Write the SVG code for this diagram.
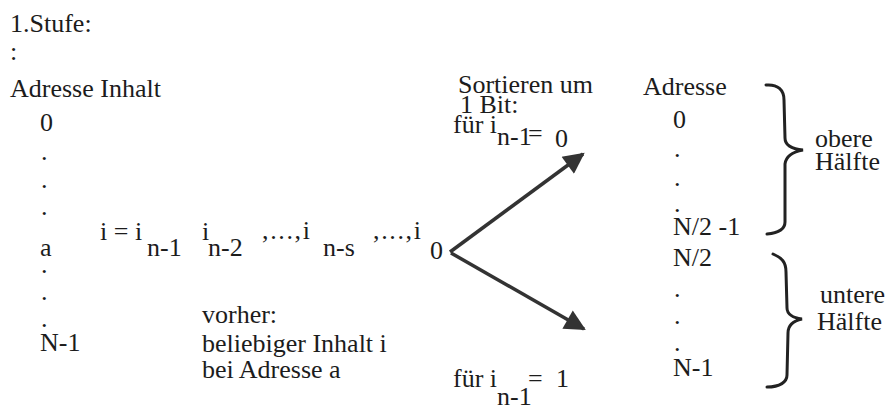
<svg xmlns="http://www.w3.org/2000/svg" width="888" height="412" viewBox="0 0 888 412">
<defs>
<style>
text{font-family:"Liberation Serif","Times New Roman",serif;font-size:26px;fill:#1c1c1c}
.c{stroke:#333;stroke-width:3.5;fill:none}
.b{stroke:#222;stroke-width:3;fill:none;stroke-linecap:round}
</style>
<marker id="ah" viewBox="0 0 10 10" refX="9" refY="5" markerWidth="7" markerHeight="6" markerUnits="strokeWidth" orient="auto">
<path d="M0,0 L10,5 L0,10 z" fill="#333"/>
</marker>
</defs>
<rect width="888" height="412" fill="#fff"/>
<g id="title">
<text x="10" y="32">1.Stufe:</text>
<text x="10" y="60">:</text>
</g>
<g id="left-column">
<text x="10" y="97">Adresse Inhalt</text>
<text x="40" y="131">0</text>
<text x="41" y="160">.</text>
<text x="41" y="188">.</text>
<text x="41" y="215">.</text>
<text x="40" y="256">a</text>
<text x="41" y="273">.</text>
<text x="41" y="300">.</text>
<text x="41" y="327">.</text>
<text x="40" y="351">N-1</text>
</g>
<g id="content">
<text x="100" y="240">i = i</text>
<text x="147" y="256">n-1</text>
<text x="202" y="240">i</text>
<text x="208" y="256">n-2</text>
<text x="262" y="239" textLength="48">,...,i</text>
<text x="323" y="256">n-s</text>
<text x="373" y="239" textLength="48">,...,i</text>
<text x="430" y="259">0</text>
</g>
<g id="note">
<text x="202" y="323">vorher:</text>
<text x="202" y="352">beliebiger Inhalt i</text>
<text x="202" y="378">bei Adresse a</text>
</g>
<g id="sort-label">
<text x="458" y="93">Sortieren um</text>
<text x="460" y="113">1 Bit:</text>
<text x="453" y="133">für i</text>
<text x="497" y="145">n-1</text>
<text x="528" y="142">=</text>
<text x="555" y="147">0</text>
</g>
<g id="lower-label">
<text x="453" y="387">für i</text>
<text x="528" y="387">=</text>
<text x="556" y="387">1</text>
<text x="497" y="405">n-1</text>
</g>
<g id="right-column">
<text x="643" y="95">Adresse</text>
<text x="673" y="128">0</text>
<text x="674" y="157">.</text>
<text x="674" y="186">.</text>
<text x="674" y="212">.</text>
<text x="673" y="235">N/2 -1</text>
<text x="673" y="266">N/2</text>
<text x="674" y="297">.</text>
<text x="674" y="324">.</text>
<text x="674" y="351">.</text>
<text x="673" y="376">N-1</text>
</g>
<g id="upper-half">
<path class="b" d="M766,85 C778,84 784,90 784,100 L785,138 C785,145 792,149 803,150 C792,152 786,156 785,164 L785,222 C785,230 778,233 767,234"/>
<text x="815" y="147">obere</text>
<text x="815" y="170">Hälfte</text>
</g>
<g id="lower-half">
<path class="b" d="M773,254 C782,258 786,262 786,272 L787,308 C787,314 793,318 802,319 C793,321 788,325 788,333 L787,375 C787,382 780,387 767,387"/>
<text x="820" y="303">untere</text>
<text x="817" y="330">Hälfte</text>
</g>
<g id="connectors">
<line class="c" x1="450" y1="252" x2="583" y2="154" marker-end="url(#ah)"/>
<line class="c" x1="451" y1="253" x2="584" y2="329" marker-end="url(#ah)"/>
</g>
</svg>
